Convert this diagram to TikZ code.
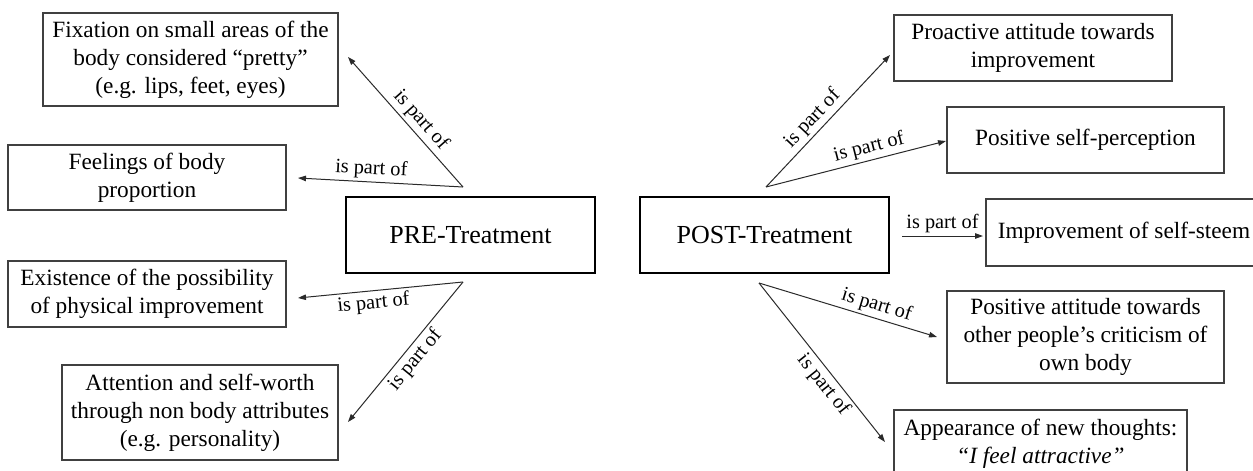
\documentclass[tikz,border=0pt]{standalone}
\usepackage{fontspec}
\setmainfont{Liberation Serif}
\usetikzlibrary{arrows.meta}
\definecolor{edgegray}{HTML}{404040}
\definecolor{linkgray}{HTML}{2A2A2A}
\begin{document}
\begin{tikzpicture}[x=1pt,y=-1pt,
  box/.style={draw=edgegray, line width=1.1pt, align=center, inner sep=0pt, font=\fontsize{23.3}{28}\selectfont},
  centerbox/.style={draw=black, line width=2.6pt, inner sep=0pt, font=\fontsize{26}{30}\selectfont},
  link/.style={draw=linkgray, line width=1pt, -{Triangle[length=8pt,width=5.5pt]}},
  lbl/.style={font=\fontsize{20.3}{22}\selectfont, sloped, inner sep=3pt}]
\useasboundingbox (0,0) rectangle (1253,471);

% central boxes
\node[centerbox, minimum width=249pt, minimum height=76pt] (pre) at (470.5,235) {PRE-Treatment};
\node[centerbox, minimum width=249pt, minimum height=76pt] (post) at (764.5,235) {POST-Treatment};

% left boxes
\node[box, minimum width=295pt, minimum height=93pt] (fix) at (190.5,59.5) {Fixation on small areas of the\\body considered “pretty”\\(e.g. lips, feet, eyes)};
\node[box, minimum width=278pt, minimum height=65pt] (feel) at (147,177.5) {Feelings of body\\proportion};
\node[box, minimum width=278pt, minimum height=66pt] (exist) at (147,294) {Existence of the possibility\\of physical improvement};
\node[box, minimum width=276pt, minimum height=95pt] (attn) at (200,412.5) {Attention and self-worth\\through non body attributes\\(e.g. personality)};

% right boxes
\node[box, minimum width=278pt, minimum height=66pt] (proa) at (1033,48) {Proactive attitude towards\\improvement};
\node[box, minimum width=277pt, minimum height=66pt] (pself) at (1085.5,140) {Positive self-perception};
\node[box, minimum width=276pt, minimum height=67pt] (impr) at (1124,232.5) {Improvement of self-steem};
\node[box, minimum width=277pt, minimum height=92pt] (patt) at (1085.5,337) {Positive attitude towards\\other people’s criticism of\\own body};
\node[box, minimum width=293pt, minimum height=68pt] (appr) at (1040.5,444) {Appearance of new thoughts:\\\textit{“I feel attractive”}};

% connector end points
\coordinate (oLu) at (463,187);
\coordinate (oLd) at (463,282);
\coordinate (oRu) at (766,187);
\coordinate (oRd) at (759,283);
\coordinate (tfix) at (348,57);
\coordinate (tfeel) at (298,178);
\coordinate (texist) at (298,298);
\coordinate (tattn) at (348,422);
\coordinate (tproa) at (890,55);
\coordinate (tpself) at (946,141);
\coordinate (hs) at (902,236);
\coordinate (timpr) at (983,236);
\coordinate (tpatt) at (937,337);
\coordinate (tappr) at (885,442);

\draw[link] (oLu) -- node[lbl, above, pos=0.45] {is part of} (tfix);
\draw[link] (oLu) -- node[lbl, above, pos=0.56] {is part of} (tfeel);
\draw[link] (oLd) -- node[lbl, below, pos=0.55] {is part of} (texist);
\draw[link] (oLd) -- node[lbl, below, pos=0.5] {is part of} (tattn);

\draw[link] (oRu) -- node[lbl, above, pos=0.45] {is part of} (tproa);
\draw[link] (oRu) -- node[lbl, above, pos=0.59] {is part of} (tpself);
\draw[link] (hs) -- node[lbl, above, pos=0.5] {is part of} (timpr);
\draw[link] (oRd) -- node[lbl, above, pos=0.64] {is part of} (tpatt);
\draw[link] (oRd) -- node[lbl, below, pos=0.59] {is part of} (tappr);
\end{tikzpicture}
\end{document}
